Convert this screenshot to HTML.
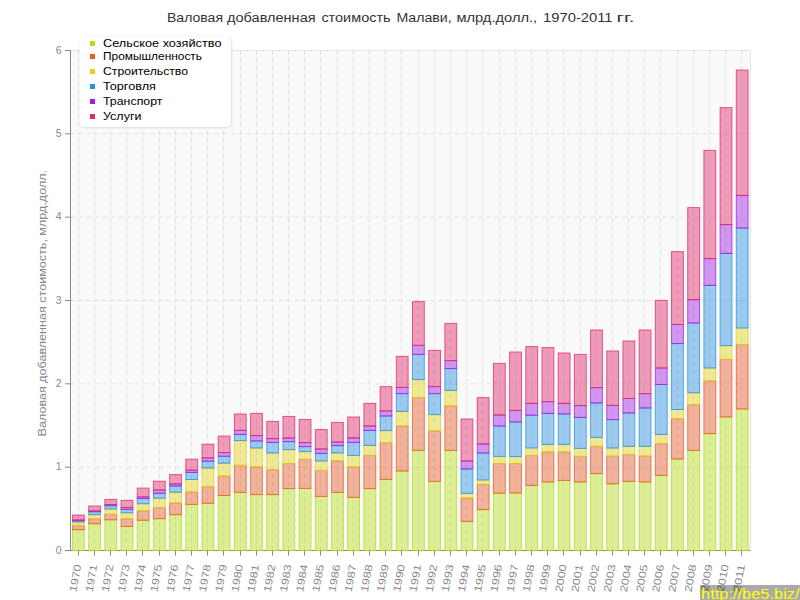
<!DOCTYPE html>
<html><head><meta charset="utf-8"><style>
html,body{margin:0;padding:0;background:#fff;width:800px;height:600px;overflow:hidden}
svg{display:block;font-family:"Liberation Sans", sans-serif}
</style></head><body>
<svg width="800" height="600" viewBox="0 0 800 600">
<rect x="70.5" y="50.5" width="680.0" height="500.0" fill="#fafafa"/>
<line x1="70.5" y1="50.5" x2="750.5" y2="50.5" stroke="#e6e6e6" stroke-width="1"/>
<line x1="750.5" y1="50.5" x2="750.5" y2="550.5" stroke="#e6e6e6" stroke-width="1"/>
<line x1="70.5" y1="50.50" x2="750.5" y2="50.50" stroke="#e0e0e0" stroke-width="1" stroke-dasharray="4.5,3.5"/>
<line x1="70.5" y1="133.83" x2="750.5" y2="133.83" stroke="#e0e0e0" stroke-width="1" stroke-dasharray="4.5,3.5"/>
<line x1="70.5" y1="217.17" x2="750.5" y2="217.17" stroke="#e0e0e0" stroke-width="1" stroke-dasharray="4.5,3.5"/>
<line x1="70.5" y1="300.50" x2="750.5" y2="300.50" stroke="#e0e0e0" stroke-width="1" stroke-dasharray="4.5,3.5"/>
<line x1="70.5" y1="383.83" x2="750.5" y2="383.83" stroke="#e0e0e0" stroke-width="1" stroke-dasharray="4.5,3.5"/>
<line x1="70.5" y1="467.17" x2="750.5" y2="467.17" stroke="#e0e0e0" stroke-width="1" stroke-dasharray="4.5,3.5"/>
<line x1="78.5" y1="50.5" x2="78.5" y2="550.5" stroke="#e0e0e0" stroke-width="1" stroke-dasharray="4.5,3.5"/>
<line x1="94.5" y1="50.5" x2="94.5" y2="550.5" stroke="#e0e0e0" stroke-width="1" stroke-dasharray="4.5,3.5"/>
<line x1="110.5" y1="50.5" x2="110.5" y2="550.5" stroke="#e0e0e0" stroke-width="1" stroke-dasharray="4.5,3.5"/>
<line x1="126.5" y1="50.5" x2="126.5" y2="550.5" stroke="#e0e0e0" stroke-width="1" stroke-dasharray="4.5,3.5"/>
<line x1="142.5" y1="50.5" x2="142.5" y2="550.5" stroke="#e0e0e0" stroke-width="1" stroke-dasharray="4.5,3.5"/>
<line x1="159.5" y1="50.5" x2="159.5" y2="550.5" stroke="#e0e0e0" stroke-width="1" stroke-dasharray="4.5,3.5"/>
<line x1="175.5" y1="50.5" x2="175.5" y2="550.5" stroke="#e0e0e0" stroke-width="1" stroke-dasharray="4.5,3.5"/>
<line x1="191.5" y1="50.5" x2="191.5" y2="550.5" stroke="#e0e0e0" stroke-width="1" stroke-dasharray="4.5,3.5"/>
<line x1="207.5" y1="50.5" x2="207.5" y2="550.5" stroke="#e0e0e0" stroke-width="1" stroke-dasharray="4.5,3.5"/>
<line x1="223.5" y1="50.5" x2="223.5" y2="550.5" stroke="#e0e0e0" stroke-width="1" stroke-dasharray="4.5,3.5"/>
<line x1="240.5" y1="50.5" x2="240.5" y2="550.5" stroke="#e0e0e0" stroke-width="1" stroke-dasharray="4.5,3.5"/>
<line x1="256.5" y1="50.5" x2="256.5" y2="550.5" stroke="#e0e0e0" stroke-width="1" stroke-dasharray="4.5,3.5"/>
<line x1="272.5" y1="50.5" x2="272.5" y2="550.5" stroke="#e0e0e0" stroke-width="1" stroke-dasharray="4.5,3.5"/>
<line x1="288.5" y1="50.5" x2="288.5" y2="550.5" stroke="#e0e0e0" stroke-width="1" stroke-dasharray="4.5,3.5"/>
<line x1="304.5" y1="50.5" x2="304.5" y2="550.5" stroke="#e0e0e0" stroke-width="1" stroke-dasharray="4.5,3.5"/>
<line x1="320.5" y1="50.5" x2="320.5" y2="550.5" stroke="#e0e0e0" stroke-width="1" stroke-dasharray="4.5,3.5"/>
<line x1="337.5" y1="50.5" x2="337.5" y2="550.5" stroke="#e0e0e0" stroke-width="1" stroke-dasharray="4.5,3.5"/>
<line x1="353.5" y1="50.5" x2="353.5" y2="550.5" stroke="#e0e0e0" stroke-width="1" stroke-dasharray="4.5,3.5"/>
<line x1="369.5" y1="50.5" x2="369.5" y2="550.5" stroke="#e0e0e0" stroke-width="1" stroke-dasharray="4.5,3.5"/>
<line x1="385.5" y1="50.5" x2="385.5" y2="550.5" stroke="#e0e0e0" stroke-width="1" stroke-dasharray="4.5,3.5"/>
<line x1="401.5" y1="50.5" x2="401.5" y2="550.5" stroke="#e0e0e0" stroke-width="1" stroke-dasharray="4.5,3.5"/>
<line x1="418.5" y1="50.5" x2="418.5" y2="550.5" stroke="#e0e0e0" stroke-width="1" stroke-dasharray="4.5,3.5"/>
<line x1="434.5" y1="50.5" x2="434.5" y2="550.5" stroke="#e0e0e0" stroke-width="1" stroke-dasharray="4.5,3.5"/>
<line x1="450.5" y1="50.5" x2="450.5" y2="550.5" stroke="#e0e0e0" stroke-width="1" stroke-dasharray="4.5,3.5"/>
<line x1="466.5" y1="50.5" x2="466.5" y2="550.5" stroke="#e0e0e0" stroke-width="1" stroke-dasharray="4.5,3.5"/>
<line x1="482.5" y1="50.5" x2="482.5" y2="550.5" stroke="#e0e0e0" stroke-width="1" stroke-dasharray="4.5,3.5"/>
<line x1="499.5" y1="50.5" x2="499.5" y2="550.5" stroke="#e0e0e0" stroke-width="1" stroke-dasharray="4.5,3.5"/>
<line x1="515.5" y1="50.5" x2="515.5" y2="550.5" stroke="#e0e0e0" stroke-width="1" stroke-dasharray="4.5,3.5"/>
<line x1="531.5" y1="50.5" x2="531.5" y2="550.5" stroke="#e0e0e0" stroke-width="1" stroke-dasharray="4.5,3.5"/>
<line x1="547.5" y1="50.5" x2="547.5" y2="550.5" stroke="#e0e0e0" stroke-width="1" stroke-dasharray="4.5,3.5"/>
<line x1="563.5" y1="50.5" x2="563.5" y2="550.5" stroke="#e0e0e0" stroke-width="1" stroke-dasharray="4.5,3.5"/>
<line x1="580.5" y1="50.5" x2="580.5" y2="550.5" stroke="#e0e0e0" stroke-width="1" stroke-dasharray="4.5,3.5"/>
<line x1="596.5" y1="50.5" x2="596.5" y2="550.5" stroke="#e0e0e0" stroke-width="1" stroke-dasharray="4.5,3.5"/>
<line x1="612.5" y1="50.5" x2="612.5" y2="550.5" stroke="#e0e0e0" stroke-width="1" stroke-dasharray="4.5,3.5"/>
<line x1="628.5" y1="50.5" x2="628.5" y2="550.5" stroke="#e0e0e0" stroke-width="1" stroke-dasharray="4.5,3.5"/>
<line x1="644.5" y1="50.5" x2="644.5" y2="550.5" stroke="#e0e0e0" stroke-width="1" stroke-dasharray="4.5,3.5"/>
<line x1="660.5" y1="50.5" x2="660.5" y2="550.5" stroke="#e0e0e0" stroke-width="1" stroke-dasharray="4.5,3.5"/>
<line x1="677.5" y1="50.5" x2="677.5" y2="550.5" stroke="#e0e0e0" stroke-width="1" stroke-dasharray="4.5,3.5"/>
<line x1="693.5" y1="50.5" x2="693.5" y2="550.5" stroke="#e0e0e0" stroke-width="1" stroke-dasharray="4.5,3.5"/>
<line x1="709.5" y1="50.5" x2="709.5" y2="550.5" stroke="#e0e0e0" stroke-width="1" stroke-dasharray="4.5,3.5"/>
<line x1="725.5" y1="50.5" x2="725.5" y2="550.5" stroke="#e0e0e0" stroke-width="1" stroke-dasharray="4.5,3.5"/>
<line x1="741.5" y1="50.5" x2="741.5" y2="550.5" stroke="#e0e0e0" stroke-width="1" stroke-dasharray="4.5,3.5"/>
<line x1="70.5" y1="50.5" x2="70.5" y2="550.5" stroke="#888888" stroke-width="1"/>
<line x1="65" y1="550.5" x2="750.5" y2="550.5" stroke="#888888" stroke-width="1"/>
<rect x="72.50" y="529.70" width="11.8" height="20.80" fill="rgba(181,221,26,0.45)" stroke="rgba(181,221,26,0.75)" stroke-width="1"/>
<rect x="72.50" y="525.70" width="11.8" height="4.00" fill="rgba(228,92,39,0.45)" stroke="rgba(228,92,39,0.75)" stroke-width="1"/>
<rect x="72.50" y="522.00" width="11.8" height="3.70" fill="rgba(226,210,30,0.45)" stroke="rgba(226,210,30,0.75)" stroke-width="1"/>
<rect x="72.50" y="520.70" width="11.8" height="1.30" fill="rgba(42,144,224,0.45)" stroke="rgba(42,144,224,0.75)" stroke-width="1"/>
<rect x="72.50" y="520.00" width="11.8" height="0.70" fill="rgba(160,32,224,0.45)" stroke="rgba(160,32,224,0.75)" stroke-width="1"/>
<rect x="72.50" y="515.00" width="11.8" height="5.00" fill="rgba(224,40,106,0.45)" stroke="rgba(224,40,106,0.75)" stroke-width="1"/>
<rect x="88.69" y="523.70" width="11.8" height="26.80" fill="rgba(181,221,26,0.45)" stroke="rgba(181,221,26,0.75)" stroke-width="1"/>
<rect x="88.69" y="518.70" width="11.8" height="5.00" fill="rgba(228,92,39,0.45)" stroke="rgba(228,92,39,0.75)" stroke-width="1"/>
<rect x="88.69" y="514.70" width="11.8" height="4.00" fill="rgba(226,210,30,0.45)" stroke="rgba(226,210,30,0.75)" stroke-width="1"/>
<rect x="88.69" y="511.70" width="11.8" height="3.00" fill="rgba(42,144,224,0.45)" stroke="rgba(42,144,224,0.75)" stroke-width="1"/>
<rect x="88.69" y="511.00" width="11.8" height="0.70" fill="rgba(160,32,224,0.45)" stroke="rgba(160,32,224,0.75)" stroke-width="1"/>
<rect x="88.69" y="506.00" width="11.8" height="5.00" fill="rgba(224,40,106,0.45)" stroke="rgba(224,40,106,0.75)" stroke-width="1"/>
<rect x="104.88" y="519.80" width="11.8" height="30.70" fill="rgba(181,221,26,0.45)" stroke="rgba(181,221,26,0.75)" stroke-width="1"/>
<rect x="104.88" y="514.30" width="11.8" height="5.50" fill="rgba(228,92,39,0.45)" stroke="rgba(228,92,39,0.75)" stroke-width="1"/>
<rect x="104.88" y="509.00" width="11.8" height="5.30" fill="rgba(226,210,30,0.45)" stroke="rgba(226,210,30,0.75)" stroke-width="1"/>
<rect x="104.88" y="505.70" width="11.8" height="3.30" fill="rgba(42,144,224,0.45)" stroke="rgba(42,144,224,0.75)" stroke-width="1"/>
<rect x="104.88" y="504.50" width="11.8" height="1.20" fill="rgba(160,32,224,0.45)" stroke="rgba(160,32,224,0.75)" stroke-width="1"/>
<rect x="104.88" y="499.40" width="11.8" height="5.10" fill="rgba(224,40,106,0.45)" stroke="rgba(224,40,106,0.75)" stroke-width="1"/>
<rect x="121.07" y="526.50" width="11.8" height="24.00" fill="rgba(181,221,26,0.45)" stroke="rgba(181,221,26,0.75)" stroke-width="1"/>
<rect x="121.07" y="519.00" width="11.8" height="7.50" fill="rgba(228,92,39,0.45)" stroke="rgba(228,92,39,0.75)" stroke-width="1"/>
<rect x="121.07" y="512.75" width="11.8" height="6.25" fill="rgba(226,210,30,0.45)" stroke="rgba(226,210,30,0.75)" stroke-width="1"/>
<rect x="121.07" y="509.40" width="11.8" height="3.35" fill="rgba(42,144,224,0.45)" stroke="rgba(42,144,224,0.75)" stroke-width="1"/>
<rect x="121.07" y="507.50" width="11.8" height="1.90" fill="rgba(160,32,224,0.45)" stroke="rgba(160,32,224,0.75)" stroke-width="1"/>
<rect x="121.07" y="500.40" width="11.8" height="7.10" fill="rgba(224,40,106,0.45)" stroke="rgba(224,40,106,0.75)" stroke-width="1"/>
<rect x="137.26" y="520.25" width="11.8" height="30.25" fill="rgba(181,221,26,0.45)" stroke="rgba(181,221,26,0.75)" stroke-width="1"/>
<rect x="137.26" y="511.00" width="11.8" height="9.25" fill="rgba(228,92,39,0.45)" stroke="rgba(228,92,39,0.75)" stroke-width="1"/>
<rect x="137.26" y="503.75" width="11.8" height="7.25" fill="rgba(226,210,30,0.45)" stroke="rgba(226,210,30,0.75)" stroke-width="1"/>
<rect x="137.26" y="498.50" width="11.8" height="5.25" fill="rgba(42,144,224,0.45)" stroke="rgba(42,144,224,0.75)" stroke-width="1"/>
<rect x="137.26" y="496.90" width="11.8" height="1.60" fill="rgba(160,32,224,0.45)" stroke="rgba(160,32,224,0.75)" stroke-width="1"/>
<rect x="137.26" y="488.10" width="11.8" height="8.80" fill="rgba(224,40,106,0.45)" stroke="rgba(224,40,106,0.75)" stroke-width="1"/>
<rect x="153.45" y="518.70" width="11.8" height="31.80" fill="rgba(181,221,26,0.45)" stroke="rgba(181,221,26,0.75)" stroke-width="1"/>
<rect x="153.45" y="507.70" width="11.8" height="11.00" fill="rgba(228,92,39,0.45)" stroke="rgba(228,92,39,0.75)" stroke-width="1"/>
<rect x="153.45" y="498.20" width="11.8" height="9.50" fill="rgba(226,210,30,0.45)" stroke="rgba(226,210,30,0.75)" stroke-width="1"/>
<rect x="153.45" y="493.30" width="11.8" height="4.90" fill="rgba(42,144,224,0.45)" stroke="rgba(42,144,224,0.75)" stroke-width="1"/>
<rect x="153.45" y="490.00" width="11.8" height="3.30" fill="rgba(160,32,224,0.45)" stroke="rgba(160,32,224,0.75)" stroke-width="1"/>
<rect x="153.45" y="481.20" width="11.8" height="8.80" fill="rgba(224,40,106,0.45)" stroke="rgba(224,40,106,0.75)" stroke-width="1"/>
<rect x="169.64" y="514.70" width="11.8" height="35.80" fill="rgba(181,221,26,0.45)" stroke="rgba(181,221,26,0.75)" stroke-width="1"/>
<rect x="169.64" y="503.00" width="11.8" height="11.70" fill="rgba(228,92,39,0.45)" stroke="rgba(228,92,39,0.75)" stroke-width="1"/>
<rect x="169.64" y="492.20" width="11.8" height="10.80" fill="rgba(226,210,30,0.45)" stroke="rgba(226,210,30,0.75)" stroke-width="1"/>
<rect x="169.64" y="486.00" width="11.8" height="6.20" fill="rgba(42,144,224,0.45)" stroke="rgba(42,144,224,0.75)" stroke-width="1"/>
<rect x="169.64" y="483.90" width="11.8" height="2.10" fill="rgba(160,32,224,0.45)" stroke="rgba(160,32,224,0.75)" stroke-width="1"/>
<rect x="169.64" y="474.60" width="11.8" height="9.30" fill="rgba(224,40,106,0.45)" stroke="rgba(224,40,106,0.75)" stroke-width="1"/>
<rect x="185.83" y="504.40" width="11.8" height="46.10" fill="rgba(181,221,26,0.45)" stroke="rgba(181,221,26,0.75)" stroke-width="1"/>
<rect x="185.83" y="492.00" width="11.8" height="12.40" fill="rgba(228,92,39,0.45)" stroke="rgba(228,92,39,0.75)" stroke-width="1"/>
<rect x="185.83" y="479.50" width="11.8" height="12.50" fill="rgba(226,210,30,0.45)" stroke="rgba(226,210,30,0.75)" stroke-width="1"/>
<rect x="185.83" y="472.40" width="11.8" height="7.10" fill="rgba(42,144,224,0.45)" stroke="rgba(42,144,224,0.75)" stroke-width="1"/>
<rect x="185.83" y="470.20" width="11.8" height="2.20" fill="rgba(160,32,224,0.45)" stroke="rgba(160,32,224,0.75)" stroke-width="1"/>
<rect x="185.83" y="459.20" width="11.8" height="11.00" fill="rgba(224,40,106,0.45)" stroke="rgba(224,40,106,0.75)" stroke-width="1"/>
<rect x="202.02" y="503.30" width="11.8" height="47.20" fill="rgba(181,221,26,0.45)" stroke="rgba(181,221,26,0.75)" stroke-width="1"/>
<rect x="202.02" y="486.70" width="11.8" height="16.60" fill="rgba(228,92,39,0.45)" stroke="rgba(228,92,39,0.75)" stroke-width="1"/>
<rect x="202.02" y="468.00" width="11.8" height="18.70" fill="rgba(226,210,30,0.45)" stroke="rgba(226,210,30,0.75)" stroke-width="1"/>
<rect x="202.02" y="461.20" width="11.8" height="6.80" fill="rgba(42,144,224,0.45)" stroke="rgba(42,144,224,0.75)" stroke-width="1"/>
<rect x="202.02" y="457.90" width="11.8" height="3.30" fill="rgba(160,32,224,0.45)" stroke="rgba(160,32,224,0.75)" stroke-width="1"/>
<rect x="202.02" y="444.20" width="11.8" height="13.70" fill="rgba(224,40,106,0.45)" stroke="rgba(224,40,106,0.75)" stroke-width="1"/>
<rect x="218.21" y="495.50" width="11.8" height="55.00" fill="rgba(181,221,26,0.45)" stroke="rgba(181,221,26,0.75)" stroke-width="1"/>
<rect x="218.21" y="476.20" width="11.8" height="19.30" fill="rgba(228,92,39,0.45)" stroke="rgba(228,92,39,0.75)" stroke-width="1"/>
<rect x="218.21" y="463.20" width="11.8" height="13.00" fill="rgba(226,210,30,0.45)" stroke="rgba(226,210,30,0.75)" stroke-width="1"/>
<rect x="218.21" y="456.30" width="11.8" height="6.90" fill="rgba(42,144,224,0.45)" stroke="rgba(42,144,224,0.75)" stroke-width="1"/>
<rect x="218.21" y="452.60" width="11.8" height="3.70" fill="rgba(160,32,224,0.45)" stroke="rgba(160,32,224,0.75)" stroke-width="1"/>
<rect x="218.21" y="436.10" width="11.8" height="16.50" fill="rgba(224,40,106,0.45)" stroke="rgba(224,40,106,0.75)" stroke-width="1"/>
<rect x="234.40" y="492.40" width="11.8" height="58.10" fill="rgba(181,221,26,0.45)" stroke="rgba(181,221,26,0.75)" stroke-width="1"/>
<rect x="234.40" y="465.40" width="11.8" height="27.00" fill="rgba(228,92,39,0.45)" stroke="rgba(228,92,39,0.75)" stroke-width="1"/>
<rect x="234.40" y="440.60" width="11.8" height="24.80" fill="rgba(226,210,30,0.45)" stroke="rgba(226,210,30,0.75)" stroke-width="1"/>
<rect x="234.40" y="434.40" width="11.8" height="6.20" fill="rgba(42,144,224,0.45)" stroke="rgba(42,144,224,0.75)" stroke-width="1"/>
<rect x="234.40" y="430.40" width="11.8" height="4.00" fill="rgba(160,32,224,0.45)" stroke="rgba(160,32,224,0.75)" stroke-width="1"/>
<rect x="234.40" y="414.00" width="11.8" height="16.40" fill="rgba(224,40,106,0.45)" stroke="rgba(224,40,106,0.75)" stroke-width="1"/>
<rect x="250.59" y="494.60" width="11.8" height="55.90" fill="rgba(181,221,26,0.45)" stroke="rgba(181,221,26,0.75)" stroke-width="1"/>
<rect x="250.59" y="467.00" width="11.8" height="27.60" fill="rgba(228,92,39,0.45)" stroke="rgba(228,92,39,0.75)" stroke-width="1"/>
<rect x="250.59" y="448.00" width="11.8" height="19.00" fill="rgba(226,210,30,0.45)" stroke="rgba(226,210,30,0.75)" stroke-width="1"/>
<rect x="250.59" y="441.00" width="11.8" height="7.00" fill="rgba(42,144,224,0.45)" stroke="rgba(42,144,224,0.75)" stroke-width="1"/>
<rect x="250.59" y="435.60" width="11.8" height="5.40" fill="rgba(160,32,224,0.45)" stroke="rgba(160,32,224,0.75)" stroke-width="1"/>
<rect x="250.59" y="413.40" width="11.8" height="22.20" fill="rgba(224,40,106,0.45)" stroke="rgba(224,40,106,0.75)" stroke-width="1"/>
<rect x="266.78" y="494.60" width="11.8" height="55.90" fill="rgba(181,221,26,0.45)" stroke="rgba(181,221,26,0.75)" stroke-width="1"/>
<rect x="266.78" y="469.60" width="11.8" height="25.00" fill="rgba(228,92,39,0.45)" stroke="rgba(228,92,39,0.75)" stroke-width="1"/>
<rect x="266.78" y="453.00" width="11.8" height="16.60" fill="rgba(226,210,30,0.45)" stroke="rgba(226,210,30,0.75)" stroke-width="1"/>
<rect x="266.78" y="442.40" width="11.8" height="10.60" fill="rgba(42,144,224,0.45)" stroke="rgba(42,144,224,0.75)" stroke-width="1"/>
<rect x="266.78" y="438.60" width="11.8" height="3.80" fill="rgba(160,32,224,0.45)" stroke="rgba(160,32,224,0.75)" stroke-width="1"/>
<rect x="266.78" y="421.40" width="11.8" height="17.20" fill="rgba(224,40,106,0.45)" stroke="rgba(224,40,106,0.75)" stroke-width="1"/>
<rect x="282.97" y="488.60" width="11.8" height="61.90" fill="rgba(181,221,26,0.45)" stroke="rgba(181,221,26,0.75)" stroke-width="1"/>
<rect x="282.97" y="463.60" width="11.8" height="25.00" fill="rgba(228,92,39,0.45)" stroke="rgba(228,92,39,0.75)" stroke-width="1"/>
<rect x="282.97" y="449.60" width="11.8" height="14.00" fill="rgba(226,210,30,0.45)" stroke="rgba(226,210,30,0.75)" stroke-width="1"/>
<rect x="282.97" y="441.60" width="11.8" height="8.00" fill="rgba(42,144,224,0.45)" stroke="rgba(42,144,224,0.75)" stroke-width="1"/>
<rect x="282.97" y="438.00" width="11.8" height="3.60" fill="rgba(160,32,224,0.45)" stroke="rgba(160,32,224,0.75)" stroke-width="1"/>
<rect x="282.97" y="416.40" width="11.8" height="21.60" fill="rgba(224,40,106,0.45)" stroke="rgba(224,40,106,0.75)" stroke-width="1"/>
<rect x="299.16" y="488.40" width="11.8" height="62.10" fill="rgba(181,221,26,0.45)" stroke="rgba(181,221,26,0.75)" stroke-width="1"/>
<rect x="299.16" y="459.40" width="11.8" height="29.00" fill="rgba(228,92,39,0.45)" stroke="rgba(228,92,39,0.75)" stroke-width="1"/>
<rect x="299.16" y="451.60" width="11.8" height="7.80" fill="rgba(226,210,30,0.45)" stroke="rgba(226,210,30,0.75)" stroke-width="1"/>
<rect x="299.16" y="446.60" width="11.8" height="5.00" fill="rgba(42,144,224,0.45)" stroke="rgba(42,144,224,0.75)" stroke-width="1"/>
<rect x="299.16" y="442.60" width="11.8" height="4.00" fill="rgba(160,32,224,0.45)" stroke="rgba(160,32,224,0.75)" stroke-width="1"/>
<rect x="299.16" y="419.40" width="11.8" height="23.20" fill="rgba(224,40,106,0.45)" stroke="rgba(224,40,106,0.75)" stroke-width="1"/>
<rect x="315.35" y="496.40" width="11.8" height="54.10" fill="rgba(181,221,26,0.45)" stroke="rgba(181,221,26,0.75)" stroke-width="1"/>
<rect x="315.35" y="470.40" width="11.8" height="26.00" fill="rgba(228,92,39,0.45)" stroke="rgba(228,92,39,0.75)" stroke-width="1"/>
<rect x="315.35" y="461.00" width="11.8" height="9.40" fill="rgba(226,210,30,0.45)" stroke="rgba(226,210,30,0.75)" stroke-width="1"/>
<rect x="315.35" y="453.40" width="11.8" height="7.60" fill="rgba(42,144,224,0.45)" stroke="rgba(42,144,224,0.75)" stroke-width="1"/>
<rect x="315.35" y="449.00" width="11.8" height="4.40" fill="rgba(160,32,224,0.45)" stroke="rgba(160,32,224,0.75)" stroke-width="1"/>
<rect x="315.35" y="429.60" width="11.8" height="19.40" fill="rgba(224,40,106,0.45)" stroke="rgba(224,40,106,0.75)" stroke-width="1"/>
<rect x="331.54" y="492.40" width="11.8" height="58.10" fill="rgba(181,221,26,0.45)" stroke="rgba(181,221,26,0.75)" stroke-width="1"/>
<rect x="331.54" y="461.00" width="11.8" height="31.40" fill="rgba(228,92,39,0.45)" stroke="rgba(228,92,39,0.75)" stroke-width="1"/>
<rect x="331.54" y="453.00" width="11.8" height="8.00" fill="rgba(226,210,30,0.45)" stroke="rgba(226,210,30,0.75)" stroke-width="1"/>
<rect x="331.54" y="445.60" width="11.8" height="7.40" fill="rgba(42,144,224,0.45)" stroke="rgba(42,144,224,0.75)" stroke-width="1"/>
<rect x="331.54" y="442.00" width="11.8" height="3.60" fill="rgba(160,32,224,0.45)" stroke="rgba(160,32,224,0.75)" stroke-width="1"/>
<rect x="331.54" y="422.40" width="11.8" height="19.60" fill="rgba(224,40,106,0.45)" stroke="rgba(224,40,106,0.75)" stroke-width="1"/>
<rect x="347.73" y="497.40" width="11.8" height="53.10" fill="rgba(181,221,26,0.45)" stroke="rgba(181,221,26,0.75)" stroke-width="1"/>
<rect x="347.73" y="467.00" width="11.8" height="30.40" fill="rgba(228,92,39,0.45)" stroke="rgba(228,92,39,0.75)" stroke-width="1"/>
<rect x="347.73" y="455.40" width="11.8" height="11.60" fill="rgba(226,210,30,0.45)" stroke="rgba(226,210,30,0.75)" stroke-width="1"/>
<rect x="347.73" y="442.40" width="11.8" height="13.00" fill="rgba(42,144,224,0.45)" stroke="rgba(42,144,224,0.75)" stroke-width="1"/>
<rect x="347.73" y="438.00" width="11.8" height="4.40" fill="rgba(160,32,224,0.45)" stroke="rgba(160,32,224,0.75)" stroke-width="1"/>
<rect x="347.73" y="417.00" width="11.8" height="21.00" fill="rgba(224,40,106,0.45)" stroke="rgba(224,40,106,0.75)" stroke-width="1"/>
<rect x="363.92" y="488.60" width="11.8" height="61.90" fill="rgba(181,221,26,0.45)" stroke="rgba(181,221,26,0.75)" stroke-width="1"/>
<rect x="363.92" y="455.40" width="11.8" height="33.20" fill="rgba(228,92,39,0.45)" stroke="rgba(228,92,39,0.75)" stroke-width="1"/>
<rect x="363.92" y="445.40" width="11.8" height="10.00" fill="rgba(226,210,30,0.45)" stroke="rgba(226,210,30,0.75)" stroke-width="1"/>
<rect x="363.92" y="430.40" width="11.8" height="15.00" fill="rgba(42,144,224,0.45)" stroke="rgba(42,144,224,0.75)" stroke-width="1"/>
<rect x="363.92" y="426.00" width="11.8" height="4.40" fill="rgba(160,32,224,0.45)" stroke="rgba(160,32,224,0.75)" stroke-width="1"/>
<rect x="363.92" y="403.40" width="11.8" height="22.60" fill="rgba(224,40,106,0.45)" stroke="rgba(224,40,106,0.75)" stroke-width="1"/>
<rect x="380.11" y="479.40" width="11.8" height="71.10" fill="rgba(181,221,26,0.45)" stroke="rgba(181,221,26,0.75)" stroke-width="1"/>
<rect x="380.11" y="442.60" width="11.8" height="36.80" fill="rgba(228,92,39,0.45)" stroke="rgba(228,92,39,0.75)" stroke-width="1"/>
<rect x="380.11" y="430.60" width="11.8" height="12.00" fill="rgba(226,210,30,0.45)" stroke="rgba(226,210,30,0.75)" stroke-width="1"/>
<rect x="380.11" y="416.00" width="11.8" height="14.60" fill="rgba(42,144,224,0.45)" stroke="rgba(42,144,224,0.75)" stroke-width="1"/>
<rect x="380.11" y="411.00" width="11.8" height="5.00" fill="rgba(160,32,224,0.45)" stroke="rgba(160,32,224,0.75)" stroke-width="1"/>
<rect x="380.11" y="386.60" width="11.8" height="24.40" fill="rgba(224,40,106,0.45)" stroke="rgba(224,40,106,0.75)" stroke-width="1"/>
<rect x="396.30" y="471.00" width="11.8" height="79.50" fill="rgba(181,221,26,0.45)" stroke="rgba(181,221,26,0.75)" stroke-width="1"/>
<rect x="396.30" y="426.00" width="11.8" height="45.00" fill="rgba(228,92,39,0.45)" stroke="rgba(228,92,39,0.75)" stroke-width="1"/>
<rect x="396.30" y="411.40" width="11.8" height="14.60" fill="rgba(226,210,30,0.45)" stroke="rgba(226,210,30,0.75)" stroke-width="1"/>
<rect x="396.30" y="393.60" width="11.8" height="17.80" fill="rgba(42,144,224,0.45)" stroke="rgba(42,144,224,0.75)" stroke-width="1"/>
<rect x="396.30" y="387.40" width="11.8" height="6.20" fill="rgba(160,32,224,0.45)" stroke="rgba(160,32,224,0.75)" stroke-width="1"/>
<rect x="396.30" y="356.40" width="11.8" height="31.00" fill="rgba(224,40,106,0.45)" stroke="rgba(224,40,106,0.75)" stroke-width="1"/>
<rect x="412.50" y="450.40" width="11.8" height="100.10" fill="rgba(181,221,26,0.45)" stroke="rgba(181,221,26,0.75)" stroke-width="1"/>
<rect x="412.50" y="397.60" width="11.8" height="52.80" fill="rgba(228,92,39,0.45)" stroke="rgba(228,92,39,0.75)" stroke-width="1"/>
<rect x="412.50" y="379.60" width="11.8" height="18.00" fill="rgba(226,210,30,0.45)" stroke="rgba(226,210,30,0.75)" stroke-width="1"/>
<rect x="412.50" y="354.40" width="11.8" height="25.20" fill="rgba(42,144,224,0.45)" stroke="rgba(42,144,224,0.75)" stroke-width="1"/>
<rect x="412.50" y="345.40" width="11.8" height="9.00" fill="rgba(160,32,224,0.45)" stroke="rgba(160,32,224,0.75)" stroke-width="1"/>
<rect x="412.50" y="301.60" width="11.8" height="43.80" fill="rgba(224,40,106,0.45)" stroke="rgba(224,40,106,0.75)" stroke-width="1"/>
<rect x="428.69" y="481.40" width="11.8" height="69.10" fill="rgba(181,221,26,0.45)" stroke="rgba(181,221,26,0.75)" stroke-width="1"/>
<rect x="428.69" y="431.00" width="11.8" height="50.40" fill="rgba(228,92,39,0.45)" stroke="rgba(228,92,39,0.75)" stroke-width="1"/>
<rect x="428.69" y="414.60" width="11.8" height="16.40" fill="rgba(226,210,30,0.45)" stroke="rgba(226,210,30,0.75)" stroke-width="1"/>
<rect x="428.69" y="393.60" width="11.8" height="21.00" fill="rgba(42,144,224,0.45)" stroke="rgba(42,144,224,0.75)" stroke-width="1"/>
<rect x="428.69" y="386.60" width="11.8" height="7.00" fill="rgba(160,32,224,0.45)" stroke="rgba(160,32,224,0.75)" stroke-width="1"/>
<rect x="428.69" y="350.40" width="11.8" height="36.20" fill="rgba(224,40,106,0.45)" stroke="rgba(224,40,106,0.75)" stroke-width="1"/>
<rect x="444.88" y="450.40" width="11.8" height="100.10" fill="rgba(181,221,26,0.45)" stroke="rgba(181,221,26,0.75)" stroke-width="1"/>
<rect x="444.88" y="406.00" width="11.8" height="44.40" fill="rgba(228,92,39,0.45)" stroke="rgba(228,92,39,0.75)" stroke-width="1"/>
<rect x="444.88" y="390.40" width="11.8" height="15.60" fill="rgba(226,210,30,0.45)" stroke="rgba(226,210,30,0.75)" stroke-width="1"/>
<rect x="444.88" y="368.60" width="11.8" height="21.80" fill="rgba(42,144,224,0.45)" stroke="rgba(42,144,224,0.75)" stroke-width="1"/>
<rect x="444.88" y="360.60" width="11.8" height="8.00" fill="rgba(160,32,224,0.45)" stroke="rgba(160,32,224,0.75)" stroke-width="1"/>
<rect x="444.88" y="323.40" width="11.8" height="37.20" fill="rgba(224,40,106,0.45)" stroke="rgba(224,40,106,0.75)" stroke-width="1"/>
<rect x="461.07" y="521.40" width="11.8" height="29.10" fill="rgba(181,221,26,0.45)" stroke="rgba(181,221,26,0.75)" stroke-width="1"/>
<rect x="461.07" y="498.00" width="11.8" height="23.40" fill="rgba(228,92,39,0.45)" stroke="rgba(228,92,39,0.75)" stroke-width="1"/>
<rect x="461.07" y="493.40" width="11.8" height="4.60" fill="rgba(226,210,30,0.45)" stroke="rgba(226,210,30,0.75)" stroke-width="1"/>
<rect x="461.07" y="469.00" width="11.8" height="24.40" fill="rgba(42,144,224,0.45)" stroke="rgba(42,144,224,0.75)" stroke-width="1"/>
<rect x="461.07" y="461.00" width="11.8" height="8.00" fill="rgba(160,32,224,0.45)" stroke="rgba(160,32,224,0.75)" stroke-width="1"/>
<rect x="461.07" y="419.00" width="11.8" height="42.00" fill="rgba(224,40,106,0.45)" stroke="rgba(224,40,106,0.75)" stroke-width="1"/>
<rect x="477.26" y="509.60" width="11.8" height="40.90" fill="rgba(181,221,26,0.45)" stroke="rgba(181,221,26,0.75)" stroke-width="1"/>
<rect x="477.26" y="484.40" width="11.8" height="25.20" fill="rgba(228,92,39,0.45)" stroke="rgba(228,92,39,0.75)" stroke-width="1"/>
<rect x="477.26" y="480.00" width="11.8" height="4.40" fill="rgba(226,210,30,0.45)" stroke="rgba(226,210,30,0.75)" stroke-width="1"/>
<rect x="477.26" y="453.00" width="11.8" height="27.00" fill="rgba(42,144,224,0.45)" stroke="rgba(42,144,224,0.75)" stroke-width="1"/>
<rect x="477.26" y="444.00" width="11.8" height="9.00" fill="rgba(160,32,224,0.45)" stroke="rgba(160,32,224,0.75)" stroke-width="1"/>
<rect x="477.26" y="397.60" width="11.8" height="46.40" fill="rgba(224,40,106,0.45)" stroke="rgba(224,40,106,0.75)" stroke-width="1"/>
<rect x="493.45" y="493.20" width="11.8" height="57.30" fill="rgba(181,221,26,0.45)" stroke="rgba(181,221,26,0.75)" stroke-width="1"/>
<rect x="493.45" y="463.60" width="11.8" height="29.60" fill="rgba(228,92,39,0.45)" stroke="rgba(228,92,39,0.75)" stroke-width="1"/>
<rect x="493.45" y="456.40" width="11.8" height="7.20" fill="rgba(226,210,30,0.45)" stroke="rgba(226,210,30,0.75)" stroke-width="1"/>
<rect x="493.45" y="426.00" width="11.8" height="30.40" fill="rgba(42,144,224,0.45)" stroke="rgba(42,144,224,0.75)" stroke-width="1"/>
<rect x="493.45" y="415.00" width="11.8" height="11.00" fill="rgba(160,32,224,0.45)" stroke="rgba(160,32,224,0.75)" stroke-width="1"/>
<rect x="493.45" y="363.40" width="11.8" height="51.60" fill="rgba(224,40,106,0.45)" stroke="rgba(224,40,106,0.75)" stroke-width="1"/>
<rect x="509.64" y="493.00" width="11.8" height="57.50" fill="rgba(181,221,26,0.45)" stroke="rgba(181,221,26,0.75)" stroke-width="1"/>
<rect x="509.64" y="463.60" width="11.8" height="29.40" fill="rgba(228,92,39,0.45)" stroke="rgba(228,92,39,0.75)" stroke-width="1"/>
<rect x="509.64" y="456.60" width="11.8" height="7.00" fill="rgba(226,210,30,0.45)" stroke="rgba(226,210,30,0.75)" stroke-width="1"/>
<rect x="509.64" y="422.00" width="11.8" height="34.60" fill="rgba(42,144,224,0.45)" stroke="rgba(42,144,224,0.75)" stroke-width="1"/>
<rect x="509.64" y="410.40" width="11.8" height="11.60" fill="rgba(160,32,224,0.45)" stroke="rgba(160,32,224,0.75)" stroke-width="1"/>
<rect x="509.64" y="352.00" width="11.8" height="58.40" fill="rgba(224,40,106,0.45)" stroke="rgba(224,40,106,0.75)" stroke-width="1"/>
<rect x="525.83" y="485.40" width="11.8" height="65.10" fill="rgba(181,221,26,0.45)" stroke="rgba(181,221,26,0.75)" stroke-width="1"/>
<rect x="525.83" y="455.40" width="11.8" height="30.00" fill="rgba(228,92,39,0.45)" stroke="rgba(228,92,39,0.75)" stroke-width="1"/>
<rect x="525.83" y="448.00" width="11.8" height="7.40" fill="rgba(226,210,30,0.45)" stroke="rgba(226,210,30,0.75)" stroke-width="1"/>
<rect x="525.83" y="415.20" width="11.8" height="32.80" fill="rgba(42,144,224,0.45)" stroke="rgba(42,144,224,0.75)" stroke-width="1"/>
<rect x="525.83" y="403.40" width="11.8" height="11.80" fill="rgba(160,32,224,0.45)" stroke="rgba(160,32,224,0.75)" stroke-width="1"/>
<rect x="525.83" y="346.60" width="11.8" height="56.80" fill="rgba(224,40,106,0.45)" stroke="rgba(224,40,106,0.75)" stroke-width="1"/>
<rect x="542.02" y="482.00" width="11.8" height="68.50" fill="rgba(181,221,26,0.45)" stroke="rgba(181,221,26,0.75)" stroke-width="1"/>
<rect x="542.02" y="452.00" width="11.8" height="30.00" fill="rgba(228,92,39,0.45)" stroke="rgba(228,92,39,0.75)" stroke-width="1"/>
<rect x="542.02" y="444.40" width="11.8" height="7.60" fill="rgba(226,210,30,0.45)" stroke="rgba(226,210,30,0.75)" stroke-width="1"/>
<rect x="542.02" y="413.40" width="11.8" height="31.00" fill="rgba(42,144,224,0.45)" stroke="rgba(42,144,224,0.75)" stroke-width="1"/>
<rect x="542.02" y="401.60" width="11.8" height="11.80" fill="rgba(160,32,224,0.45)" stroke="rgba(160,32,224,0.75)" stroke-width="1"/>
<rect x="542.02" y="347.60" width="11.8" height="54.00" fill="rgba(224,40,106,0.45)" stroke="rgba(224,40,106,0.75)" stroke-width="1"/>
<rect x="558.21" y="480.40" width="11.8" height="70.10" fill="rgba(181,221,26,0.45)" stroke="rgba(181,221,26,0.75)" stroke-width="1"/>
<rect x="558.21" y="452.00" width="11.8" height="28.40" fill="rgba(228,92,39,0.45)" stroke="rgba(228,92,39,0.75)" stroke-width="1"/>
<rect x="558.21" y="444.40" width="11.8" height="7.60" fill="rgba(226,210,30,0.45)" stroke="rgba(226,210,30,0.75)" stroke-width="1"/>
<rect x="558.21" y="414.00" width="11.8" height="30.40" fill="rgba(42,144,224,0.45)" stroke="rgba(42,144,224,0.75)" stroke-width="1"/>
<rect x="558.21" y="403.40" width="11.8" height="10.60" fill="rgba(160,32,224,0.45)" stroke="rgba(160,32,224,0.75)" stroke-width="1"/>
<rect x="558.21" y="353.00" width="11.8" height="50.40" fill="rgba(224,40,106,0.45)" stroke="rgba(224,40,106,0.75)" stroke-width="1"/>
<rect x="574.40" y="482.00" width="11.8" height="68.50" fill="rgba(181,221,26,0.45)" stroke="rgba(181,221,26,0.75)" stroke-width="1"/>
<rect x="574.40" y="456.40" width="11.8" height="25.60" fill="rgba(228,92,39,0.45)" stroke="rgba(228,92,39,0.75)" stroke-width="1"/>
<rect x="574.40" y="448.40" width="11.8" height="8.00" fill="rgba(226,210,30,0.45)" stroke="rgba(226,210,30,0.75)" stroke-width="1"/>
<rect x="574.40" y="417.40" width="11.8" height="31.00" fill="rgba(42,144,224,0.45)" stroke="rgba(42,144,224,0.75)" stroke-width="1"/>
<rect x="574.40" y="405.60" width="11.8" height="11.80" fill="rgba(160,32,224,0.45)" stroke="rgba(160,32,224,0.75)" stroke-width="1"/>
<rect x="574.40" y="354.40" width="11.8" height="51.20" fill="rgba(224,40,106,0.45)" stroke="rgba(224,40,106,0.75)" stroke-width="1"/>
<rect x="590.59" y="473.60" width="11.8" height="76.90" fill="rgba(181,221,26,0.45)" stroke="rgba(181,221,26,0.75)" stroke-width="1"/>
<rect x="590.59" y="446.40" width="11.8" height="27.20" fill="rgba(228,92,39,0.45)" stroke="rgba(228,92,39,0.75)" stroke-width="1"/>
<rect x="590.59" y="437.40" width="11.8" height="9.00" fill="rgba(226,210,30,0.45)" stroke="rgba(226,210,30,0.75)" stroke-width="1"/>
<rect x="590.59" y="403.00" width="11.8" height="34.40" fill="rgba(42,144,224,0.45)" stroke="rgba(42,144,224,0.75)" stroke-width="1"/>
<rect x="590.59" y="387.60" width="11.8" height="15.40" fill="rgba(160,32,224,0.45)" stroke="rgba(160,32,224,0.75)" stroke-width="1"/>
<rect x="590.59" y="330.00" width="11.8" height="57.60" fill="rgba(224,40,106,0.45)" stroke="rgba(224,40,106,0.75)" stroke-width="1"/>
<rect x="606.78" y="483.80" width="11.8" height="66.70" fill="rgba(181,221,26,0.45)" stroke="rgba(181,221,26,0.75)" stroke-width="1"/>
<rect x="606.78" y="456.20" width="11.8" height="27.60" fill="rgba(228,92,39,0.45)" stroke="rgba(228,92,39,0.75)" stroke-width="1"/>
<rect x="606.78" y="448.00" width="11.8" height="8.20" fill="rgba(226,210,30,0.45)" stroke="rgba(226,210,30,0.75)" stroke-width="1"/>
<rect x="606.78" y="419.60" width="11.8" height="28.40" fill="rgba(42,144,224,0.45)" stroke="rgba(42,144,224,0.75)" stroke-width="1"/>
<rect x="606.78" y="405.40" width="11.8" height="14.20" fill="rgba(160,32,224,0.45)" stroke="rgba(160,32,224,0.75)" stroke-width="1"/>
<rect x="606.78" y="351.00" width="11.8" height="54.40" fill="rgba(224,40,106,0.45)" stroke="rgba(224,40,106,0.75)" stroke-width="1"/>
<rect x="622.97" y="481.40" width="11.8" height="69.10" fill="rgba(181,221,26,0.45)" stroke="rgba(181,221,26,0.75)" stroke-width="1"/>
<rect x="622.97" y="454.60" width="11.8" height="26.80" fill="rgba(228,92,39,0.45)" stroke="rgba(228,92,39,0.75)" stroke-width="1"/>
<rect x="622.97" y="446.40" width="11.8" height="8.20" fill="rgba(226,210,30,0.45)" stroke="rgba(226,210,30,0.75)" stroke-width="1"/>
<rect x="622.97" y="413.00" width="11.8" height="33.40" fill="rgba(42,144,224,0.45)" stroke="rgba(42,144,224,0.75)" stroke-width="1"/>
<rect x="622.97" y="398.50" width="11.8" height="14.50" fill="rgba(160,32,224,0.45)" stroke="rgba(160,32,224,0.75)" stroke-width="1"/>
<rect x="622.97" y="341.00" width="11.8" height="57.50" fill="rgba(224,40,106,0.45)" stroke="rgba(224,40,106,0.75)" stroke-width="1"/>
<rect x="639.16" y="482.00" width="11.8" height="68.50" fill="rgba(181,221,26,0.45)" stroke="rgba(181,221,26,0.75)" stroke-width="1"/>
<rect x="639.16" y="456.00" width="11.8" height="26.00" fill="rgba(228,92,39,0.45)" stroke="rgba(228,92,39,0.75)" stroke-width="1"/>
<rect x="639.16" y="446.40" width="11.8" height="9.60" fill="rgba(226,210,30,0.45)" stroke="rgba(226,210,30,0.75)" stroke-width="1"/>
<rect x="639.16" y="408.00" width="11.8" height="38.40" fill="rgba(42,144,224,0.45)" stroke="rgba(42,144,224,0.75)" stroke-width="1"/>
<rect x="639.16" y="393.60" width="11.8" height="14.40" fill="rgba(160,32,224,0.45)" stroke="rgba(160,32,224,0.75)" stroke-width="1"/>
<rect x="639.16" y="330.00" width="11.8" height="63.60" fill="rgba(224,40,106,0.45)" stroke="rgba(224,40,106,0.75)" stroke-width="1"/>
<rect x="655.35" y="475.40" width="11.8" height="75.10" fill="rgba(181,221,26,0.45)" stroke="rgba(181,221,26,0.75)" stroke-width="1"/>
<rect x="655.35" y="443.60" width="11.8" height="31.80" fill="rgba(228,92,39,0.45)" stroke="rgba(228,92,39,0.75)" stroke-width="1"/>
<rect x="655.35" y="434.40" width="11.8" height="9.20" fill="rgba(226,210,30,0.45)" stroke="rgba(226,210,30,0.75)" stroke-width="1"/>
<rect x="655.35" y="384.50" width="11.8" height="49.90" fill="rgba(42,144,224,0.45)" stroke="rgba(42,144,224,0.75)" stroke-width="1"/>
<rect x="655.35" y="368.00" width="11.8" height="16.50" fill="rgba(160,32,224,0.45)" stroke="rgba(160,32,224,0.75)" stroke-width="1"/>
<rect x="655.35" y="300.40" width="11.8" height="67.60" fill="rgba(224,40,106,0.45)" stroke="rgba(224,40,106,0.75)" stroke-width="1"/>
<rect x="671.54" y="459.00" width="11.8" height="91.50" fill="rgba(181,221,26,0.45)" stroke="rgba(181,221,26,0.75)" stroke-width="1"/>
<rect x="671.54" y="418.60" width="11.8" height="40.40" fill="rgba(228,92,39,0.45)" stroke="rgba(228,92,39,0.75)" stroke-width="1"/>
<rect x="671.54" y="409.50" width="11.8" height="9.10" fill="rgba(226,210,30,0.45)" stroke="rgba(226,210,30,0.75)" stroke-width="1"/>
<rect x="671.54" y="343.60" width="11.8" height="65.90" fill="rgba(42,144,224,0.45)" stroke="rgba(42,144,224,0.75)" stroke-width="1"/>
<rect x="671.54" y="324.50" width="11.8" height="19.10" fill="rgba(160,32,224,0.45)" stroke="rgba(160,32,224,0.75)" stroke-width="1"/>
<rect x="671.54" y="251.60" width="11.8" height="72.90" fill="rgba(224,40,106,0.45)" stroke="rgba(224,40,106,0.75)" stroke-width="1"/>
<rect x="687.73" y="450.40" width="11.8" height="100.10" fill="rgba(181,221,26,0.45)" stroke="rgba(181,221,26,0.75)" stroke-width="1"/>
<rect x="687.73" y="404.60" width="11.8" height="45.80" fill="rgba(228,92,39,0.45)" stroke="rgba(228,92,39,0.75)" stroke-width="1"/>
<rect x="687.73" y="392.80" width="11.8" height="11.80" fill="rgba(226,210,30,0.45)" stroke="rgba(226,210,30,0.75)" stroke-width="1"/>
<rect x="687.73" y="323.00" width="11.8" height="69.80" fill="rgba(42,144,224,0.45)" stroke="rgba(42,144,224,0.75)" stroke-width="1"/>
<rect x="687.73" y="299.60" width="11.8" height="23.40" fill="rgba(160,32,224,0.45)" stroke="rgba(160,32,224,0.75)" stroke-width="1"/>
<rect x="687.73" y="207.60" width="11.8" height="92.00" fill="rgba(224,40,106,0.45)" stroke="rgba(224,40,106,0.75)" stroke-width="1"/>
<rect x="703.92" y="433.60" width="11.8" height="116.90" fill="rgba(181,221,26,0.45)" stroke="rgba(181,221,26,0.75)" stroke-width="1"/>
<rect x="703.92" y="381.00" width="11.8" height="52.60" fill="rgba(228,92,39,0.45)" stroke="rgba(228,92,39,0.75)" stroke-width="1"/>
<rect x="703.92" y="368.00" width="11.8" height="13.00" fill="rgba(226,210,30,0.45)" stroke="rgba(226,210,30,0.75)" stroke-width="1"/>
<rect x="703.92" y="285.40" width="11.8" height="82.60" fill="rgba(42,144,224,0.45)" stroke="rgba(42,144,224,0.75)" stroke-width="1"/>
<rect x="703.92" y="258.60" width="11.8" height="26.80" fill="rgba(160,32,224,0.45)" stroke="rgba(160,32,224,0.75)" stroke-width="1"/>
<rect x="703.92" y="150.40" width="11.8" height="108.20" fill="rgba(224,40,106,0.45)" stroke="rgba(224,40,106,0.75)" stroke-width="1"/>
<rect x="720.11" y="417.00" width="11.8" height="133.50" fill="rgba(181,221,26,0.45)" stroke="rgba(181,221,26,0.75)" stroke-width="1"/>
<rect x="720.11" y="359.40" width="11.8" height="57.60" fill="rgba(228,92,39,0.45)" stroke="rgba(228,92,39,0.75)" stroke-width="1"/>
<rect x="720.11" y="345.60" width="11.8" height="13.80" fill="rgba(226,210,30,0.45)" stroke="rgba(226,210,30,0.75)" stroke-width="1"/>
<rect x="720.11" y="253.40" width="11.8" height="92.20" fill="rgba(42,144,224,0.45)" stroke="rgba(42,144,224,0.75)" stroke-width="1"/>
<rect x="720.11" y="224.60" width="11.8" height="28.80" fill="rgba(160,32,224,0.45)" stroke="rgba(160,32,224,0.75)" stroke-width="1"/>
<rect x="720.11" y="107.60" width="11.8" height="117.00" fill="rgba(224,40,106,0.45)" stroke="rgba(224,40,106,0.75)" stroke-width="1"/>
<rect x="736.30" y="409.00" width="11.8" height="141.50" fill="rgba(181,221,26,0.45)" stroke="rgba(181,221,26,0.75)" stroke-width="1"/>
<rect x="736.30" y="344.60" width="11.8" height="64.40" fill="rgba(228,92,39,0.45)" stroke="rgba(228,92,39,0.75)" stroke-width="1"/>
<rect x="736.30" y="328.00" width="11.8" height="16.60" fill="rgba(226,210,30,0.45)" stroke="rgba(226,210,30,0.75)" stroke-width="1"/>
<rect x="736.30" y="228.00" width="11.8" height="100.00" fill="rgba(42,144,224,0.45)" stroke="rgba(42,144,224,0.75)" stroke-width="1"/>
<rect x="736.30" y="195.40" width="11.8" height="32.60" fill="rgba(160,32,224,0.45)" stroke="rgba(160,32,224,0.75)" stroke-width="1"/>
<rect x="736.30" y="70.00" width="11.8" height="125.40" fill="rgba(224,40,106,0.45)" stroke="rgba(224,40,106,0.75)" stroke-width="1"/>
<line x1="65" y1="550.50" x2="70.5" y2="550.50" stroke="#888888" stroke-width="1"/>
<text x="61.5" y="553.50" text-anchor="end" font-size="10.5" fill="#888888">0</text>
<line x1="65" y1="467.17" x2="70.5" y2="467.17" stroke="#888888" stroke-width="1"/>
<text x="61.5" y="470.17" text-anchor="end" font-size="10.5" fill="#888888">1</text>
<line x1="65" y1="383.83" x2="70.5" y2="383.83" stroke="#888888" stroke-width="1"/>
<text x="61.5" y="386.83" text-anchor="end" font-size="10.5" fill="#888888">2</text>
<line x1="65" y1="300.50" x2="70.5" y2="300.50" stroke="#888888" stroke-width="1"/>
<text x="61.5" y="303.50" text-anchor="end" font-size="10.5" fill="#888888">3</text>
<line x1="65" y1="217.17" x2="70.5" y2="217.17" stroke="#888888" stroke-width="1"/>
<text x="61.5" y="220.17" text-anchor="end" font-size="10.5" fill="#888888">4</text>
<line x1="65" y1="133.83" x2="70.5" y2="133.83" stroke="#888888" stroke-width="1"/>
<text x="61.5" y="136.83" text-anchor="end" font-size="10.5" fill="#888888">5</text>
<line x1="65" y1="50.50" x2="70.5" y2="50.50" stroke="#888888" stroke-width="1"/>
<text x="61.5" y="53.50" text-anchor="end" font-size="10.5" fill="#888888">6</text>
<line x1="78.5" y1="550.5" x2="78.5" y2="555.5" stroke="#888888" stroke-width="1"/>
<text transform="translate(81.10,565.00) rotate(-80)" text-anchor="end" font-size="10.3" fill="#888888" textLength="28" lengthAdjust="spacingAndGlyphs">1970</text>
<line x1="94.5" y1="550.5" x2="94.5" y2="555.5" stroke="#888888" stroke-width="1"/>
<text transform="translate(97.29,565.00) rotate(-80)" text-anchor="end" font-size="10.3" fill="#888888" textLength="28" lengthAdjust="spacingAndGlyphs">1971</text>
<line x1="110.5" y1="550.5" x2="110.5" y2="555.5" stroke="#888888" stroke-width="1"/>
<text transform="translate(113.48,565.00) rotate(-80)" text-anchor="end" font-size="10.3" fill="#888888" textLength="28" lengthAdjust="spacingAndGlyphs">1972</text>
<line x1="126.5" y1="550.5" x2="126.5" y2="555.5" stroke="#888888" stroke-width="1"/>
<text transform="translate(129.67,565.00) rotate(-80)" text-anchor="end" font-size="10.3" fill="#888888" textLength="28" lengthAdjust="spacingAndGlyphs">1973</text>
<line x1="142.5" y1="550.5" x2="142.5" y2="555.5" stroke="#888888" stroke-width="1"/>
<text transform="translate(145.86,565.00) rotate(-80)" text-anchor="end" font-size="10.3" fill="#888888" textLength="28" lengthAdjust="spacingAndGlyphs">1974</text>
<line x1="159.5" y1="550.5" x2="159.5" y2="555.5" stroke="#888888" stroke-width="1"/>
<text transform="translate(162.05,565.00) rotate(-80)" text-anchor="end" font-size="10.3" fill="#888888" textLength="28" lengthAdjust="spacingAndGlyphs">1975</text>
<line x1="175.5" y1="550.5" x2="175.5" y2="555.5" stroke="#888888" stroke-width="1"/>
<text transform="translate(178.24,565.00) rotate(-80)" text-anchor="end" font-size="10.3" fill="#888888" textLength="28" lengthAdjust="spacingAndGlyphs">1976</text>
<line x1="191.5" y1="550.5" x2="191.5" y2="555.5" stroke="#888888" stroke-width="1"/>
<text transform="translate(194.43,565.00) rotate(-80)" text-anchor="end" font-size="10.3" fill="#888888" textLength="28" lengthAdjust="spacingAndGlyphs">1977</text>
<line x1="207.5" y1="550.5" x2="207.5" y2="555.5" stroke="#888888" stroke-width="1"/>
<text transform="translate(210.62,565.00) rotate(-80)" text-anchor="end" font-size="10.3" fill="#888888" textLength="28" lengthAdjust="spacingAndGlyphs">1978</text>
<line x1="223.5" y1="550.5" x2="223.5" y2="555.5" stroke="#888888" stroke-width="1"/>
<text transform="translate(226.81,565.00) rotate(-80)" text-anchor="end" font-size="10.3" fill="#888888" textLength="28" lengthAdjust="spacingAndGlyphs">1979</text>
<line x1="240.5" y1="550.5" x2="240.5" y2="555.5" stroke="#888888" stroke-width="1"/>
<text transform="translate(243.00,565.00) rotate(-80)" text-anchor="end" font-size="10.3" fill="#888888" textLength="28" lengthAdjust="spacingAndGlyphs">1980</text>
<line x1="256.5" y1="550.5" x2="256.5" y2="555.5" stroke="#888888" stroke-width="1"/>
<text transform="translate(259.19,565.00) rotate(-80)" text-anchor="end" font-size="10.3" fill="#888888" textLength="28" lengthAdjust="spacingAndGlyphs">1981</text>
<line x1="272.5" y1="550.5" x2="272.5" y2="555.5" stroke="#888888" stroke-width="1"/>
<text transform="translate(275.38,565.00) rotate(-80)" text-anchor="end" font-size="10.3" fill="#888888" textLength="28" lengthAdjust="spacingAndGlyphs">1982</text>
<line x1="288.5" y1="550.5" x2="288.5" y2="555.5" stroke="#888888" stroke-width="1"/>
<text transform="translate(291.57,565.00) rotate(-80)" text-anchor="end" font-size="10.3" fill="#888888" textLength="28" lengthAdjust="spacingAndGlyphs">1983</text>
<line x1="304.5" y1="550.5" x2="304.5" y2="555.5" stroke="#888888" stroke-width="1"/>
<text transform="translate(307.76,565.00) rotate(-80)" text-anchor="end" font-size="10.3" fill="#888888" textLength="28" lengthAdjust="spacingAndGlyphs">1984</text>
<line x1="320.5" y1="550.5" x2="320.5" y2="555.5" stroke="#888888" stroke-width="1"/>
<text transform="translate(323.95,565.00) rotate(-80)" text-anchor="end" font-size="10.3" fill="#888888" textLength="28" lengthAdjust="spacingAndGlyphs">1985</text>
<line x1="337.5" y1="550.5" x2="337.5" y2="555.5" stroke="#888888" stroke-width="1"/>
<text transform="translate(340.14,565.00) rotate(-80)" text-anchor="end" font-size="10.3" fill="#888888" textLength="28" lengthAdjust="spacingAndGlyphs">1986</text>
<line x1="353.5" y1="550.5" x2="353.5" y2="555.5" stroke="#888888" stroke-width="1"/>
<text transform="translate(356.33,565.00) rotate(-80)" text-anchor="end" font-size="10.3" fill="#888888" textLength="28" lengthAdjust="spacingAndGlyphs">1987</text>
<line x1="369.5" y1="550.5" x2="369.5" y2="555.5" stroke="#888888" stroke-width="1"/>
<text transform="translate(372.52,565.00) rotate(-80)" text-anchor="end" font-size="10.3" fill="#888888" textLength="28" lengthAdjust="spacingAndGlyphs">1988</text>
<line x1="385.5" y1="550.5" x2="385.5" y2="555.5" stroke="#888888" stroke-width="1"/>
<text transform="translate(388.71,565.00) rotate(-80)" text-anchor="end" font-size="10.3" fill="#888888" textLength="28" lengthAdjust="spacingAndGlyphs">1989</text>
<line x1="401.5" y1="550.5" x2="401.5" y2="555.5" stroke="#888888" stroke-width="1"/>
<text transform="translate(404.90,565.00) rotate(-80)" text-anchor="end" font-size="10.3" fill="#888888" textLength="28" lengthAdjust="spacingAndGlyphs">1990</text>
<line x1="418.5" y1="550.5" x2="418.5" y2="555.5" stroke="#888888" stroke-width="1"/>
<text transform="translate(421.10,565.00) rotate(-80)" text-anchor="end" font-size="10.3" fill="#888888" textLength="28" lengthAdjust="spacingAndGlyphs">1991</text>
<line x1="434.5" y1="550.5" x2="434.5" y2="555.5" stroke="#888888" stroke-width="1"/>
<text transform="translate(437.29,565.00) rotate(-80)" text-anchor="end" font-size="10.3" fill="#888888" textLength="28" lengthAdjust="spacingAndGlyphs">1992</text>
<line x1="450.5" y1="550.5" x2="450.5" y2="555.5" stroke="#888888" stroke-width="1"/>
<text transform="translate(453.48,565.00) rotate(-80)" text-anchor="end" font-size="10.3" fill="#888888" textLength="28" lengthAdjust="spacingAndGlyphs">1993</text>
<line x1="466.5" y1="550.5" x2="466.5" y2="555.5" stroke="#888888" stroke-width="1"/>
<text transform="translate(469.67,565.00) rotate(-80)" text-anchor="end" font-size="10.3" fill="#888888" textLength="28" lengthAdjust="spacingAndGlyphs">1994</text>
<line x1="482.5" y1="550.5" x2="482.5" y2="555.5" stroke="#888888" stroke-width="1"/>
<text transform="translate(485.86,565.00) rotate(-80)" text-anchor="end" font-size="10.3" fill="#888888" textLength="28" lengthAdjust="spacingAndGlyphs">1995</text>
<line x1="499.5" y1="550.5" x2="499.5" y2="555.5" stroke="#888888" stroke-width="1"/>
<text transform="translate(502.05,565.00) rotate(-80)" text-anchor="end" font-size="10.3" fill="#888888" textLength="28" lengthAdjust="spacingAndGlyphs">1996</text>
<line x1="515.5" y1="550.5" x2="515.5" y2="555.5" stroke="#888888" stroke-width="1"/>
<text transform="translate(518.24,565.00) rotate(-80)" text-anchor="end" font-size="10.3" fill="#888888" textLength="28" lengthAdjust="spacingAndGlyphs">1997</text>
<line x1="531.5" y1="550.5" x2="531.5" y2="555.5" stroke="#888888" stroke-width="1"/>
<text transform="translate(534.43,565.00) rotate(-80)" text-anchor="end" font-size="10.3" fill="#888888" textLength="28" lengthAdjust="spacingAndGlyphs">1998</text>
<line x1="547.5" y1="550.5" x2="547.5" y2="555.5" stroke="#888888" stroke-width="1"/>
<text transform="translate(550.62,565.00) rotate(-80)" text-anchor="end" font-size="10.3" fill="#888888" textLength="28" lengthAdjust="spacingAndGlyphs">1999</text>
<line x1="563.5" y1="550.5" x2="563.5" y2="555.5" stroke="#888888" stroke-width="1"/>
<text transform="translate(566.81,565.00) rotate(-80)" text-anchor="end" font-size="10.3" fill="#888888" textLength="28" lengthAdjust="spacingAndGlyphs">2000</text>
<line x1="580.5" y1="550.5" x2="580.5" y2="555.5" stroke="#888888" stroke-width="1"/>
<text transform="translate(583.00,565.00) rotate(-80)" text-anchor="end" font-size="10.3" fill="#888888" textLength="28" lengthAdjust="spacingAndGlyphs">2001</text>
<line x1="596.5" y1="550.5" x2="596.5" y2="555.5" stroke="#888888" stroke-width="1"/>
<text transform="translate(599.19,565.00) rotate(-80)" text-anchor="end" font-size="10.3" fill="#888888" textLength="28" lengthAdjust="spacingAndGlyphs">2002</text>
<line x1="612.5" y1="550.5" x2="612.5" y2="555.5" stroke="#888888" stroke-width="1"/>
<text transform="translate(615.38,565.00) rotate(-80)" text-anchor="end" font-size="10.3" fill="#888888" textLength="28" lengthAdjust="spacingAndGlyphs">2003</text>
<line x1="628.5" y1="550.5" x2="628.5" y2="555.5" stroke="#888888" stroke-width="1"/>
<text transform="translate(631.57,565.00) rotate(-80)" text-anchor="end" font-size="10.3" fill="#888888" textLength="28" lengthAdjust="spacingAndGlyphs">2004</text>
<line x1="644.5" y1="550.5" x2="644.5" y2="555.5" stroke="#888888" stroke-width="1"/>
<text transform="translate(647.76,565.00) rotate(-80)" text-anchor="end" font-size="10.3" fill="#888888" textLength="28" lengthAdjust="spacingAndGlyphs">2005</text>
<line x1="660.5" y1="550.5" x2="660.5" y2="555.5" stroke="#888888" stroke-width="1"/>
<text transform="translate(663.95,565.00) rotate(-80)" text-anchor="end" font-size="10.3" fill="#888888" textLength="28" lengthAdjust="spacingAndGlyphs">2006</text>
<line x1="677.5" y1="550.5" x2="677.5" y2="555.5" stroke="#888888" stroke-width="1"/>
<text transform="translate(680.14,565.00) rotate(-80)" text-anchor="end" font-size="10.3" fill="#888888" textLength="28" lengthAdjust="spacingAndGlyphs">2007</text>
<line x1="693.5" y1="550.5" x2="693.5" y2="555.5" stroke="#888888" stroke-width="1"/>
<text transform="translate(696.33,565.00) rotate(-80)" text-anchor="end" font-size="10.3" fill="#888888" textLength="28" lengthAdjust="spacingAndGlyphs">2008</text>
<line x1="709.5" y1="550.5" x2="709.5" y2="555.5" stroke="#888888" stroke-width="1"/>
<text transform="translate(712.52,565.00) rotate(-80)" text-anchor="end" font-size="10.3" fill="#888888" textLength="28" lengthAdjust="spacingAndGlyphs">2009</text>
<line x1="725.5" y1="550.5" x2="725.5" y2="555.5" stroke="#888888" stroke-width="1"/>
<text transform="translate(728.71,565.00) rotate(-80)" text-anchor="end" font-size="10.3" fill="#888888" textLength="28" lengthAdjust="spacingAndGlyphs">2010</text>
<line x1="741.5" y1="550.5" x2="741.5" y2="555.5" stroke="#888888" stroke-width="1"/>
<text transform="translate(744.90,565.00) rotate(-80)" text-anchor="end" font-size="10.3" fill="#888888" textLength="28" lengthAdjust="spacingAndGlyphs">2011</text>
<text transform="translate(46,303.2) rotate(-90)" text-anchor="middle" font-size="11" fill="#888888" textLength="266.5" lengthAdjust="spacingAndGlyphs">Валовая добавленная стоимость, млрд.долл.</text>
<text x="167.00" y="21.9" font-size="12" fill="#333333" textLength="56.00" lengthAdjust="spacingAndGlyphs">Валовая</text>
<text x="227.00" y="21.9" font-size="12" fill="#333333" textLength="88.60" lengthAdjust="spacingAndGlyphs">добавленная</text>
<text x="321.40" y="21.9" font-size="12" fill="#333333" textLength="69.20" lengthAdjust="spacingAndGlyphs">стоимость</text>
<text x="396.40" y="21.9" font-size="12" fill="#333333" textLength="55.20" lengthAdjust="spacingAndGlyphs">Малави,</text>
<text x="456.40" y="21.9" font-size="12" fill="#333333" textLength="80.80" lengthAdjust="spacingAndGlyphs">млрд.долл.,</text>
<text x="543.00" y="21.9" font-size="12" fill="#333333" textLength="69.60" lengthAdjust="spacingAndGlyphs">1970-2011</text>
<text x="616.40" y="21.9" font-size="12" fill="#333333" textLength="18.20" lengthAdjust="spacingAndGlyphs">гг.</text>
<defs><filter id="sh" x="-10%" y="-10%" width="120%" height="120%"><feDropShadow dx="0.5" dy="0.5" stdDeviation="1.2" flood-color="#000" flood-opacity="0.18"/></filter></defs>
<rect x="79.5" y="36.5" width="151.5" height="90.5" rx="5" fill="#fff" filter="url(#sh)"/>
<rect x="90" y="41" width="5" height="5" fill="#b5dd1a"/>
<text x="103" y="46.6" font-size="10.2" fill="#000" textLength="118.5" lengthAdjust="spacingAndGlyphs">Сельское хозяйство</text>
<rect x="90" y="54" width="5" height="5" fill="#e45c27"/>
<text x="103" y="59.8" font-size="10.2" fill="#000" textLength="99" lengthAdjust="spacingAndGlyphs">Промышленность</text>
<rect x="90" y="69" width="5" height="5" fill="#e2d21e"/>
<text x="103" y="75" font-size="10.2" fill="#000" textLength="85" lengthAdjust="spacingAndGlyphs">Строительство</text>
<rect x="90" y="84" width="5" height="5" fill="#2a90e0"/>
<text x="103" y="90" font-size="10.2" fill="#000" textLength="53" lengthAdjust="spacingAndGlyphs">Торговля</text>
<rect x="90" y="99" width="5" height="5" fill="#a020e0"/>
<text x="103" y="105" font-size="10.2" fill="#000" textLength="59.5" lengthAdjust="spacingAndGlyphs">Транспорт</text>
<rect x="90" y="114" width="5" height="5" fill="#e0286a"/>
<text x="103" y="120" font-size="10.2" fill="#000" textLength="38.5" lengthAdjust="spacingAndGlyphs">Услуги</text>
<rect x="700" y="585" width="100" height="15" fill="rgba(0,0,0,0.335)"/>
<text x="701" y="598.5" font-size="14" fill="#ffff00" textLength="98.6" lengthAdjust="spacingAndGlyphs">http://be5.biz/</text>
</svg>
</body></html>
